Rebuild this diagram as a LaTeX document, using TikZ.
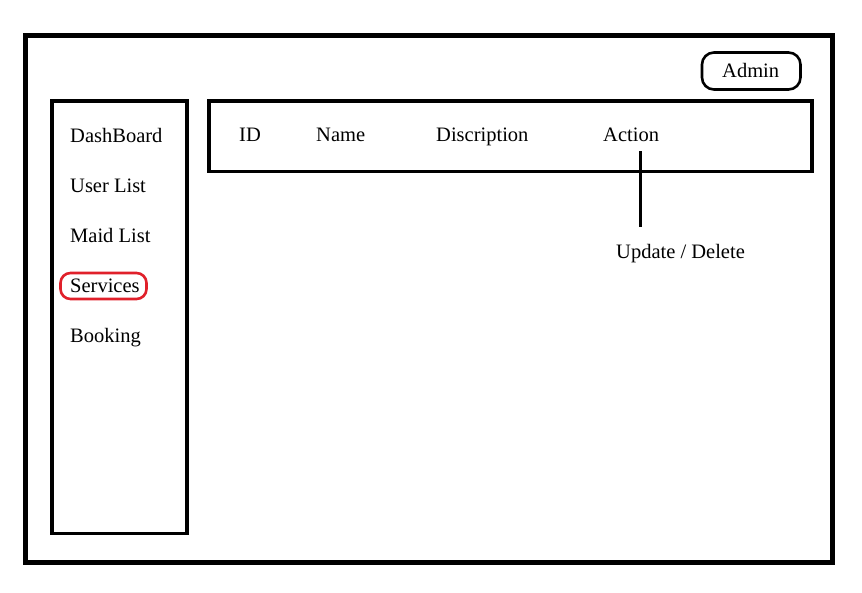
\documentclass[tikz,border=0pt]{standalone}
\usepackage{fontspec}
\setmainfont{Liberation Serif}
\definecolor{selred}{HTML}{E0202A}
\begin{document}
\begin{tikzpicture}[x=1pt,y=-1pt,
  lbl/.style={anchor=base west,inner sep=0pt,font=\fontsize{20.5}{23}\selectfont},
  frame/.style={draw=black,line width=#1},
]
\useasboundingbox (0,0) rectangle (862,592);
% outer frame
\draw[frame=5pt] (25,35) rectangle (832,562);
% sidebar
\draw[frame=3.2pt] (52,101) rectangle (187,533.5);
% header table
\draw[frame=3.2pt] (209,101) rectangle (812,171.5);
% admin
\draw[frame=2.6pt,rounded corners=12pt] (702,52.5) rectangle (800.5,89.5);
\node[lbl] (admin) at (722,77) {Admin};
% sidebar items
\node[lbl] (dash) at (70,142) {DashBoard};
\node[lbl] (user) at (70,192) {User List};
\node[lbl] (maid) at (70,242) {Maid List};
\node[lbl] (serv) at (70,292) {Services};
\node[lbl] (book) at (70,342) {Booking};
\draw[draw=selred,line width=2.6pt,rounded corners=10pt] (60.5,273) rectangle (146.5,299);
% header items
\node[lbl] (id) at (239,141) {ID};
\node[lbl] (name) at (316,141) {Name};
\node[lbl] (desc) at (436,141) {Discription};
\node[lbl] (act) at (603,141) {Action};
\node[lbl] (upd) at (616,258) {Update / Delete};
\coordinate (ltop) at (640,151);
\coordinate (lbot) at (640,227);
\draw[line width=3pt] (ltop) -- (lbot);
\end{tikzpicture}
\end{document}
